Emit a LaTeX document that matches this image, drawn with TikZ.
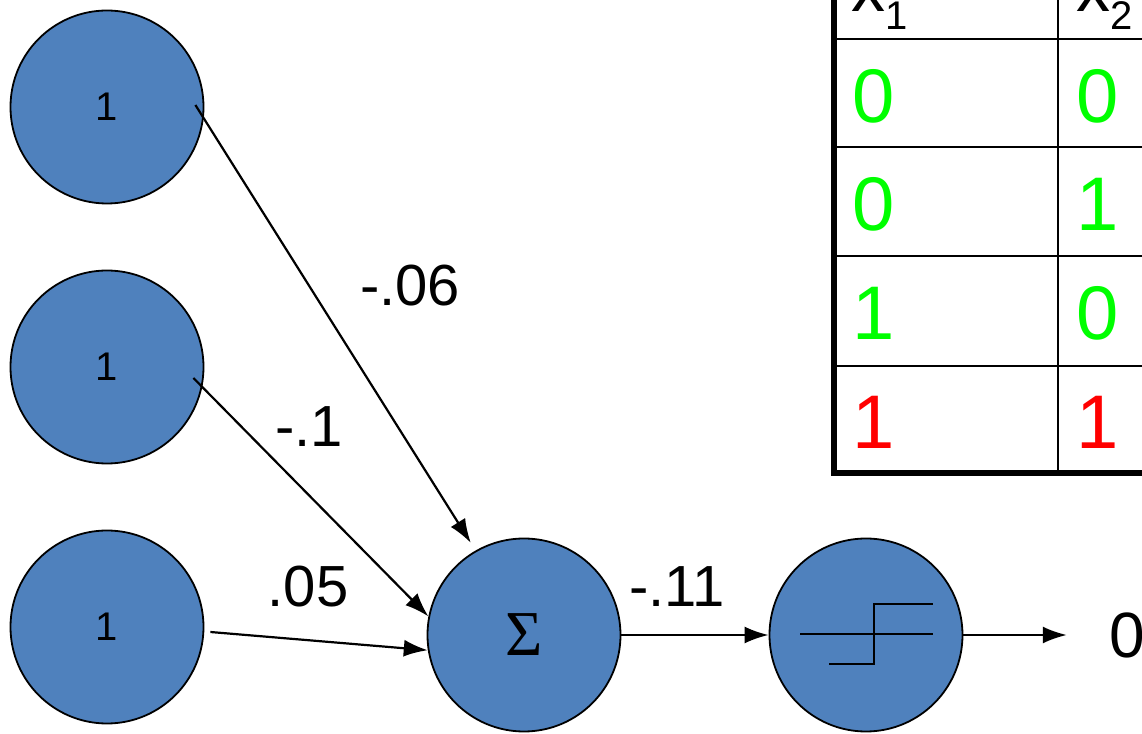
\documentclass[tikz,border=0pt]{standalone}
\usepackage{fontspec}
\setmainfont{Liberation Sans}
\newfontfamily\seriffont{Liberation Serif}
\usepackage{tikz}
\usetikzlibrary{arrows.meta}
\definecolor{nblue}{HTML}{4F81BD}
\definecolor{tgreen}{HTML}{00FF00}
\definecolor{tred}{HTML}{FF0000}

\begin{document}
\begin{tikzpicture}[x=0.5pt, y=0.5pt, >={Latex[length=12pt,width=8.5pt]},
        neuron/.style={circle, draw=black, fill=nblue, line width=0.9pt, minimum size=96.5pt, inner sep=0pt, font=\fontsize{20}{22}\selectfont},
        conn/.style={->, line width=1.1pt},
        wlabel/.style={inner sep=0pt, font=\fontsize{29}{32}\selectfont},
        tabdigit/.style={inner sep=0pt, font=\fontsize{38}{40}\selectfont},
        tabout/.style={line width=3pt},
        tabin/.style={line width=1.2pt}]
        \useasboundingbox (0,0) rectangle (1142,734);
        % inputs
        \node[neuron] (in1) at (107,627) {1};
        \node[neuron] (in2) at (107,367) {1};
        \node[neuron] (in3) at (107,107) {1};
        % sum and threshold
        \node[neuron] (sum) at (524,99) {\seriffont\fontsize{32}{34}\selectfont Σ};
        \node[neuron] (step) at (866,99) {};
        \draw[line width=1pt] ([shift={(-66,1)}]step.center) -- ++(133,0);
        \draw[line width=1pt] ([shift={(-37,-29)}]step.center) -- ++(45,0) -- ++(0,60) -- ++(59,0);
        \node[inner sep=0pt, font=\fontsize{32}{34}\selectfont] (zero) at (1127,99) {0};
        % weights
        \draw[conn] ([shift={(-9,2)}]in1.east) -- ([shift={(120:9)}]sum.120);
        \draw[conn] ([shift={(-11,-11)}]in2.east) -- (sum.169);
        \draw[conn] ([shift={(6,-5)}]in3.east) -- (sum.189);
        \draw[conn] (sum.east) -- (step.west);
        \draw[conn] (step.east) -- ([xshift=-21pt]zero.west);
        \node[wlabel] (w1) at (410,448) {-.06};
        \node[wlabel] (w2) at (309,307) {-.1};
        \node[wlabel] (w3) at (308,147) {.05};
        \node[wlabel] (w4) at (677,147) {-.11};
        % truth table
        \draw[tabout] (833.5,760) -- (833.5,260.5) -- (1200,260.5);
        \foreach \r in {695,587,478,368}
                \draw[tabin] (833.5,\r) -- (1200,\r);
        \draw[tabin] (1058,760) -- (1058,260.5);
        \node[anchor=base west, inner sep=0pt, font=\fontsize{34}{36}\selectfont] (h1) at (851,722) {x\raisebox{-9pt}{\fontsize{20}{22}\selectfont 1}};
        \node[anchor=base west, inner sep=0pt, font=\fontsize{34}{36}\selectfont] (h2) at (1076,722) {x\raisebox{-9pt}{\fontsize{20}{22}\selectfont 2}};
        \node[tabdigit, text=tgreen] (a1) at (874,638) {0};
        \node[tabdigit, text=tgreen] (b1) at (1098,638) {0};
        \node[tabdigit, text=tgreen] (a2) at (874,530) {0};
        \node[tabdigit, text=tgreen] (b2) at (1098,530) {1};
        \node[tabdigit, text=tgreen] (a3) at (874,421) {1};
        \node[tabdigit, text=tgreen] (b3) at (1098,421) {0};
        \node[tabdigit, text=tred] (a4) at (874,312) {1};
        \node[tabdigit, text=tred] (b4) at (1098,312) {1};
\end{tikzpicture}
\end{document}
